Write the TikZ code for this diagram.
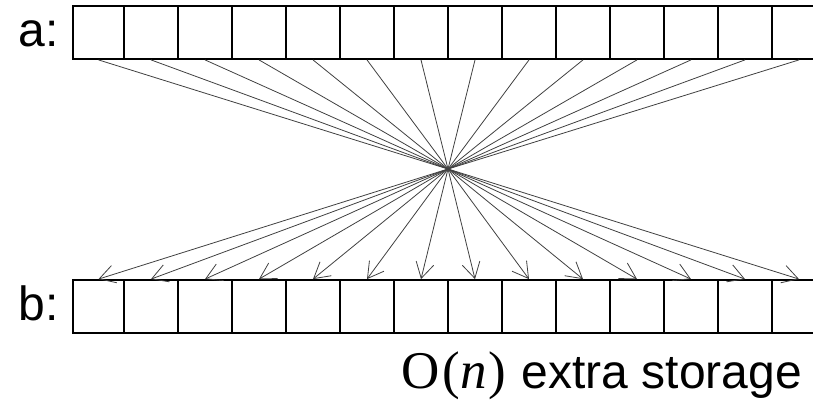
\documentclass[tikz,border=0pt]{standalone}
\usepackage{fontspec}
\setmainfont{Liberation Sans}
\newfontfamily\serifmath{Liberation Serif}
\usetikzlibrary{arrows.meta}
\begin{document}
\begin{tikzpicture}[x=1pt,y=-1pt,
  cell/.style={draw=black, line width=1.8pt, minimum width=54pt, minimum height=53pt, inner sep=0pt},
  conn/.style={draw=black!75, line width=0.8pt},
  tipped/.style={-{Straight Barb[length=15.6pt,width=18pt]}},
  lab/.style={inner sep=0pt, anchor=base east, font=\fontsize{48}{58}\selectfont}]
\clip (0,0) rectangle (813,404);
\useasboundingbox (0,0) rectangle (813,404);
\node[cell, minimum width=51pt] (a0) at (98.5,32.5) {};
\node[cell, minimum width=51pt] (b0) at (98.5,306.5) {};
\foreach \i in {1,...,13} {
  \pgfmathsetmacro\cx{151+54*(\i-1)}
  \node[cell] (a\i) at (\cx,32.5) {};
  \node[cell] (b\i) at (\cx,306.5) {};
}
\coordinate (hub) at (448,169);
\foreach \i in {0,...,13} {
  \draw[conn] (a\i.south) -- (hub);
  \draw[conn,tipped] (hub) -- (b\i.north);
}
\node[lab] (la) at (59,46) {a:};
\node[lab] (lb) at (59,320) {b:};
\node[lab] (note) at (802,388) {{\serifmath\fontsize{53}{60}\selectfont O\kern3pt(\textit{n}\kern2pt)}\kern2pt{} extra storage};
\end{tikzpicture}
\end{document}
